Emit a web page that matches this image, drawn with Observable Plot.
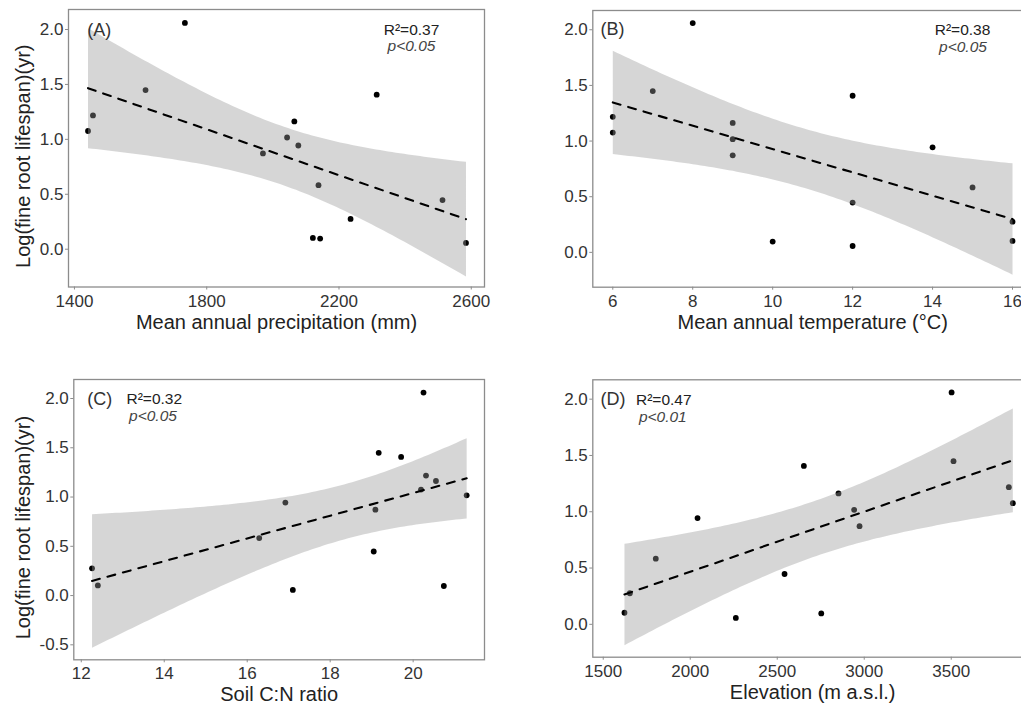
<!DOCTYPE html>
<html>
<head>
<meta charset="utf-8">
<script src="https://cdn.jsdelivr.net/npm/d3@7"></script>
<script src="https://cdn.jsdelivr.net/npm/@observablehq/plot@0.6"></script>
<style>
  html, body { margin: 0; padding: 0; background: #fff; }
  #chart { position: relative; width: 1021px; height: 704px; overflow: hidden; background: #fff; }
  #chart svg { position: absolute; }
</style>
</head>
<body>
<div id="chart"></div>
<script>
// Fine root lifespan (log, yr) per site — same 15 sites in every panel
const lifespan      = [2.06, 1.449, 1.407, 1.218, 1.163, 1.076, 1.017, 0.944, 0.872, 0.583, 0.447, 0.276, 0.103, 0.097, 0.057];
// Predictors, same site order
const precipitation = [1734, 1615, 2314, 1456, 2065, 1441, 2043, 2077, 1970, 2138, 2513, 2235, 2121, 2143, 2584];
const temperature   = [8, 7, 12, 6, 9, 6, 9, 14, 9, 15, 12, 16, 16, 10, 12];
const soilCN        = [20.25, 19.17, 19.71, 20.31, 20.55, 20.19, 21.29, 16.92, 19.09, 16.29, 19.05, 12.26, 12.40, 20.74, 17.10];
const elevation     = [3502, 3513, 2653, 3831, 2852, 3854, 2942, 2042, 2973, 1802, 2542, 1653, 1622, 2753, 2262];

const panelLabels = ["(A)", "(B)", "(C)", "(D)"];
const r2Labels    = ["R²=0.37", "R²=0.38", "R²=0.32", "R²=0.47"];
const pLabels     = ["p<0.05", "p<0.05", "p<0.05", "p<0.01"];
const xTitles     = ["Mean annual precipitation (mm)", "Mean annual temperature (°C)", "Soil C:N ratio", "Elevation (m a.s.l.)"];
const yTitle      = "Log(fine root lifespan)(yr)";

const xTicksA = [1400, 1800, 2200, 2600];
const xTicksB = [6, 8, 10, 12, 14, 16];
const xTicksC = [12, 14, 16, 18, 20];
const xTicksD = [1500, 2000, 2500, 3000, 3500];
const yTicksTop = [0, 0.5, 1, 1.5, 2];
const yTicksC   = [-0.5, 0, 0.5, 1, 1.5, 2];

const FONT = "'Liberation Sans', Arial, Helvetica, sans-serif";
const FRAME = "#8c8c8c";
const TXT = "#333";

function panel(cfg) {
  const data = cfg.x.map((x, i) => ({x, y: lifespan[i]}));
  const marks = [
    Plot.dot(data, {x: "x", y: "y", r: 2.9, fill: "#000"}),
    Plot.linearRegressionY(data, {
      x: "x", y: "y",
      stroke: "#000", strokeWidth: 2.1, strokeDasharray: "8,8",
      fill: "#999", fillOpacity: 0.4
    }),
    Plot.frame({stroke: FRAME, strokeWidth: 1.3}),
    Plot.axisX({ticks: cfg.xTicks, tickFormat: d => String(d), tickSize: 3, tickPadding: cfg.xPad,
      fontSize: 17, stroke: FRAME, fill: TXT, label: null}),
    Plot.axisY({ticks: cfg.yTicks, tickFormat: d => d.toFixed(1), tickSize: 3, tickPadding: 2,
      fontSize: 17, stroke: FRAME, fill: TXT, label: null}),
    Plot.text([cfg.xTitle], {text: d => d, frameAnchor: "bottom", textAnchor: "middle",
      lineAnchor: "bottom", dy: cfg.xTitleDy, fontSize: 20, fill: "#222"}),
    Plot.text([cfg.label], {text: d => d, frameAnchor: "top-left", textAnchor: "start",
      lineAnchor: "bottom", dx: cfg.labelDx, dy: cfg.labelDy, fontSize: 18, fill: TXT}),
    Plot.text([cfg.r2], {text: d => d, frameAnchor: cfg.statAnchor, textAnchor: "middle",
      lineAnchor: "bottom", dx: cfg.r2Dx, dy: cfg.r2Dy, fontSize: 15.5, fill: "#222"}),
    Plot.text([cfg.p], {text: d => d, frameAnchor: cfg.statAnchor, textAnchor: "middle",
      lineAnchor: "bottom", dx: cfg.pDx, dy: cfg.pDy, fontSize: 15.5, fontStyle: "italic", fill: "#444"})
  ];
  if (cfg.yTitle) {
    marks.push(Plot.text([cfg.yTitle], {text: d => d, frameAnchor: "left", textAnchor: "middle",
      lineAnchor: "middle", rotate: -90, dx: cfg.yTitleDx, dy: 8, fontSize: 20, fill: "#222"}));
  }
  const svg = Plot.plot({
    width: cfg.width, height: cfg.height,
    marginLeft: cfg.ml, marginRight: cfg.mr, marginTop: cfg.mt, marginBottom: cfg.mb,
    style: {fontFamily: FONT, background: "none", overflow: "visible"},
    x: {domain: cfg.xDomain},
    y: {domain: cfg.yDomain},
    marks
  });
  svg.style.left = cfg.left + "px";
  svg.style.top = cfg.top + "px";
  document.getElementById("chart").appendChild(svg);
}

panel({x: precipitation, xTicks: xTicksA, yTicks: yTicksTop, xTitle: xTitles[0], yTitle,
  label: panelLabels[0], r2: r2Labels[0], p: pLabels[0],
  left: 0, top: 0, width: 510, height: 340, ml: 68, mr: 26, mt: 9, mb: 53.5,
  xDomain: [1382, 2640], yDomain: [-0.344, 2.182], xPad: 5,
  xTitleDy: 41.5, yTitleDx: -44.8, labelDx: 18.7, labelDy: 26,
  statAnchor: "top-right", r2Dx: -73, r2Dy: 25.7, pDx: -73, pDy: 41});

panel({x: temperature, xTicks: xTicksB, yTicks: yTicksTop, xTitle: xTitles[1], yTitle: null,
  label: panelLabels[1], r2: r2Labels[1], p: pLabels[1],
  left: 510, top: 0, width: 530, height: 340, ml: 82.3, mr: 8, mt: 10, mb: 53.3,
  xDomain: [5.5, 16.5], yDomain: [-0.313, 2.173], xPad: 5,
  xTitleDy: 41.5, labelDx: 7.7, labelDy: 24.5,
  statAnchor: "top-right", r2Dx: -70, r2Dy: 24.7, pDx: -69.5, pDy: 41});

panel({x: soilCN, xTicks: xTicksC, yTicks: yTicksC, xTitle: xTitles[2], yTitle,
  label: panelLabels[2], r2: r2Labels[2], p: pLabels[2],
  left: 0, top: 340, width: 510, height: 364, ml: 73.3, mr: 26, mt: 39, mb: 44.7,
  xDomain: [11.82, 21.72], yDomain: [-0.652, 2.193], xPad: 4.5,
  xTitleDy: 41, yTitleDx: -50.1, labelDx: 13.4, labelDy: 25,
  statAnchor: "top-left", r2Dx: 80.5, r2Dy: 24.3, pDx: 79.2, pDy: 41});

panel({x: elevation, xTicks: xTicksD, yTicks: yTicksTop, xTitle: xTitles[3], yTitle: null,
  label: panelLabels[3], r2: r2Labels[3], p: pLabels[3],
  left: 510, top: 340, width: 530, height: 364, ml: 82.3, mr: 8, mt: 39.3, mb: 47.3,
  xDomain: [1440, 3967], yDomain: [-0.292, 2.172], xPad: 4.5,
  xTitleDy: 41.3, labelDx: 7.7, labelDy: 24.7,
  statAnchor: "top-left", r2Dx: 71, r2Dy: 24.7, pDx: 70, pDy: 41.7});
</script>
</body>
</html>
